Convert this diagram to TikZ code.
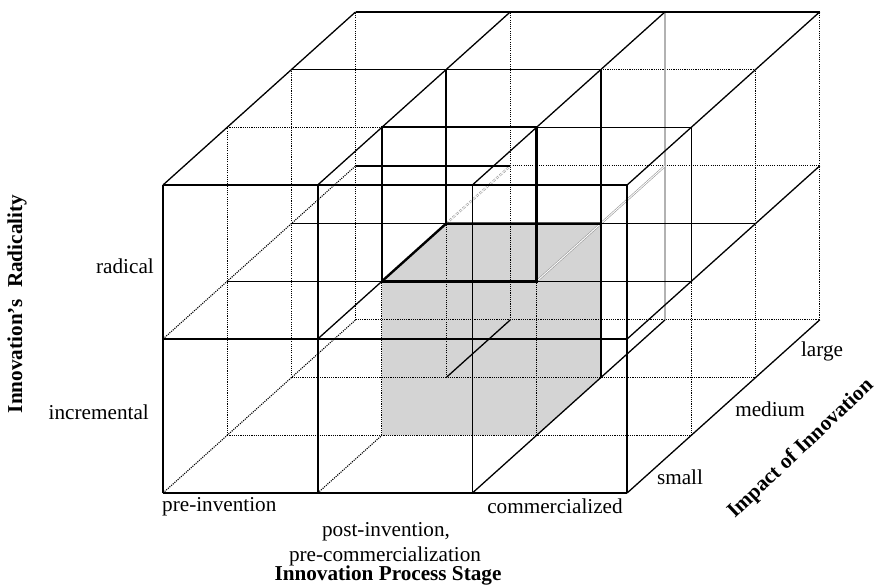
\documentclass[tikz,border=0pt]{standalone}
\usepackage{fontspec}
\setmainfont{Liberation Serif}
\begin{document}
\begin{tikzpicture}[x=1bp,y=-1bp,
  sl/.style={line width=1.3bp},
  sf/.style={line width=1.8bp},
  tk/.style={line width=2.4bp},
  dt/.style={line width=1.1bp,dash pattern=on 1.1bp off 1.1bp},
  gr/.style={draw=black!30,line width=1.6bp},
  gd/.style={draw=black!40,double=white,double distance=0.9bp,line width=0.6bp},
  gdd/.style={gd,dash pattern=on 3bp off 1.5bp},
  lab/.style={font=\fontsize{21.2bp}{25bp}\selectfont,inner sep=0pt},
  blab/.style={inner sep=0pt,font=\fontsize{21.2bp}{25bp}\selectfont\bfseries}]
\useasboundingbox (0,0) rectangle (878,585);
\foreach \i in {0,...,3}{\foreach \j in {0,1,2}{\foreach \k in {0,...,3}{
  \coordinate (p\i\j\k) at ({163+154.7*\i+64.2*\k},{493-154*\j-57.7*\k});}}}
% grey cube silhouette
\fill[black!17] (p101)--(p111)--(p112)--(p212)--(p202)--(p201)--cycle;
% hidden (dotted) lines
\draw[dt] (p001)--(p301) (p002)--(p302) (p003)--(p303);
\draw[dt] (p021)--(p121) (p222)--(p322) (p113)--(p313);
\draw[dt] (p001)--(p021) (p002)--(p022) (p003)--(p023);
\draw[dt] (p101)--(p111) (p201)--(p211) (p301)--(p311) (p102)--(p112);
\draw[dt] (p302)--(p322) (p103)--(p123) (p303)--(p323);
\draw[dt] (p000)--(p003) (p010)--(p013) (p100)--(p101);
% grey lines
\draw[gr] (p203)--(p223);
\draw[gd] (p211)--(p213);
\draw[gdd] (p112)--(p113);
% solid lines
\draw[sl] (p000)--(p300) (p020)--(p320) (p000)--(p020) (p300)--(p320);
\draw[sf] (p010)--(p310) (p100)--(p120) (p200)--(p220);
\draw[sl] (p011)--(p111) (p211)--(p311) (p221)--(p321);
\draw[sl] (p012)--(p112) (p212)--(p312) (p022)--(p222);
\draw[sl] (p013)--(p113) (p023)--(p323);
\draw[sl] (p311)--(p321) (p112)--(p122);
\draw[sf] (p202)--(p222);
\draw[sl] (p102)--(p103) (p110)--(p111);
\draw[sl] (p200)--(p203) (p300)--(p303) (p310)--(p313);
\draw[sl] (p020)--(p023) (p120)--(p123) (p220)--(p223) (p320)--(p323);
% thick highlighted edges
\draw[tk] (p111)--(p211)--(p221)--(p121)--cycle;
\draw[tk] (p111)--(p112)--(p212);
% labels
\node[lab,anchor=base east] (rad) at (154,273) {radical};
\node[lab,anchor=base east] (inc) at (149,419) {incremental};
\node[blab,rotate=90] (yax) at (17,304) {Innovation’s\hspace{0.3em} Radicality};
\node[lab,anchor=base west] (pre) at (162,511) {pre-invention};
\node[lab,anchor=base] (post) at (386,536.5) {post-invention,};
\node[lab,anchor=base] (prec) at (385,561.5) {pre-commercialization};
\node[blab,anchor=base] (xax) at (388,580) {Innovation Process Stage};
\node[lab,anchor=base] (com) at (555,513) {commercialized};
\node[lab,anchor=base] (sm) at (680,484) {small};
\node[lab,anchor=base] (med) at (770,416) {medium};
\node[lab,anchor=base] (lg) at (822,356) {large};
\node[blab,rotate=43.5] (zax) at (801,449) {Impact of Innovation};
\end{tikzpicture}
\end{document}
